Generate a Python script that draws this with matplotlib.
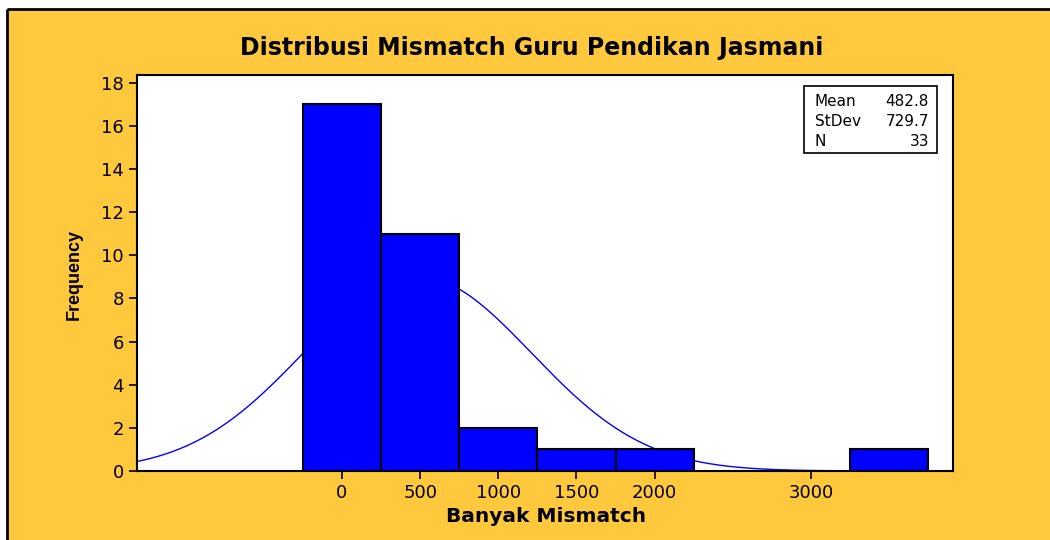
import matplotlib
matplotlib.use('Agg')
import matplotlib.pyplot as plt
from matplotlib.patches import Rectangle
from matplotlib.lines import Line2D
import numpy as np

# histogram data
bin_centers = [0, 500, 1000, 1500, 2000, 3500]
counts = [17, 11, 2, 1, 1, 1]
bin_width = 500

mean = 482.8
stdev = 729.7
n = 33

x_ticks = [0, 500, 1000, 1500, 2000, 3000]
y_ticks = list(range(0, 19, 2))

orange = '#FFC83D'

fig = plt.figure(figsize=(10.5, 5.4), dpi=100, facecolor='white')

# orange panel, black border only on top and left
px, py = 7 / 1050, 1 - 9 / 540
fig.patches.append(Rectangle((px, 0), 1 - px, py, transform=fig.transFigure,
                             facecolor=orange, edgecolor='none', zorder=-10))
fig.lines.append(Line2D([px, 1], [py, py], transform=fig.transFigure, color='black',
                        lw=2, solid_capstyle='butt'))
fig.lines.append(Line2D([px, px], [0, py], transform=fig.transFigure, color='black',
                        lw=2, solid_capstyle='butt'))

ax = fig.add_axes([137 / 1050, 1 - 471 / 540, (953 - 137) / 1050, (471 - 75) / 540])
ax.set_facecolor('white')

# normal curve scaled to counts
xs = np.linspace(-1311, 3205, 400)
ys = n * bin_width / (stdev * np.sqrt(2 * np.pi)) * np.exp(-0.5 * ((xs - mean) / stdev) ** 2)
ax.plot(xs, ys, color='#0000FF', lw=1, zorder=1)

ax.bar(bin_centers, counts, width=bin_width, color='#0000FF',
       edgecolor='black', linewidth=1.5, zorder=2)

ax.set_xlim(-1311, 3909)
ax.set_ylim(0, 18.36)
ax.set_xticks(x_ticks)
ax.set_yticks(y_ticks)
ax.tick_params(direction='out', length=6, width=1.2, colors='black', labelsize=13)
for lab in ax.get_xticklabels() + ax.get_yticklabels():
    lab.set_family('DejaVu Sans')
for s in ax.spines.values():
    s.set_linewidth(1.5)
    s.set_color('black')

fig.text(532 / 1050, 1 - 48 / 540, 'Distribusi Mismatch Guru Pendikan Jasmani',
         ha='center', va='center', fontsize=17, fontweight='bold', family='DejaVu Sans')
fig.text(546 / 1050, 1 - 516 / 540, 'Banyak Mismatch', ha='center', va='center',
         fontsize=14.5, fontweight='bold', family='DejaVu Sans')
fig.text(74 / 1050, 1 - 274 / 540, 'Frequency', ha='center', va='center',
         rotation=90, fontsize=13, fontweight='bold', family='Liberation Sans')

# stats box
box = Rectangle((804 / 1050, 1 - 153 / 540), (937 - 804) / 1050, (153 - 86) / 540,
                transform=fig.transFigure, facecolor='white', edgecolor='black',
                linewidth=1.2, zorder=5)
fig.patches.append(box)
rows = [('Mean', f'{mean:.1f}'), ('StDev', f'{stdev:.1f}'), ('N', f'{n}')]
for i, (k, v) in enumerate(rows):
    yy = 1 - (101 + 20 * i) / 540
    fig.text(815 / 1050, yy, k, ha='left', va='center', fontsize=11,
             family='DejaVu Sans', zorder=6)
    fig.text(929 / 1050, yy, v, ha='right', va='center', fontsize=11,
             family='DejaVu Sans', zorder=6)

fig.savefig('out.png', dpi=100, facecolor=fig.get_facecolor())
